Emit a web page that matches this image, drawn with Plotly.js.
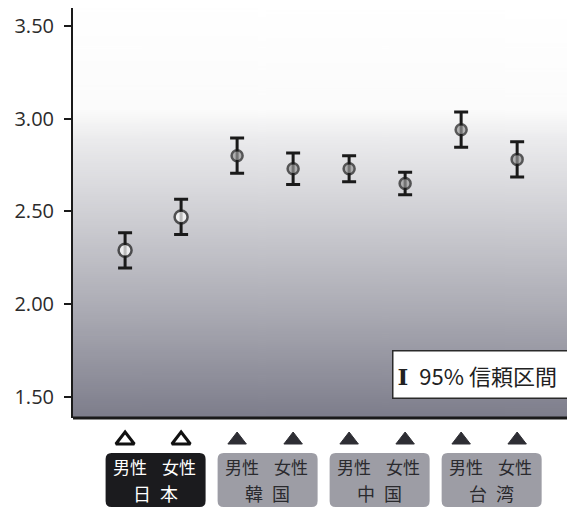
<!DOCTYPE html>
<html><head><meta charset="utf-8">
<script src="https://cdn.plot.ly/plotly-3.0.1.min.js"></script>
<style>html,body{margin:0;padding:0;background:#fff;}#chart{width:567px;height:510px;}</style>
</head><body><div id="chart"></div>
<script>
// Data
const countries = ["日本","韓国","中国","台湾"];
const sexLabels = ["男性","女性"];
const categories = ["日本 男性","日本 女性","韓国 男性","韓国 女性","中国 男性","中国 女性","台湾 男性","台湾 女性"];
const means = [2.29, 2.47, 2.80, 2.73, 2.73, 2.65, 2.94, 2.78];
const ci95 = [0.095, 0.095, 0.095, 0.085, 0.07, 0.06, 0.095, 0.095];
const tickVals = [1.5, 2.0, 2.5, 3.0, 3.5];
const tickText = ["1.50","2.00","2.50","3.00","3.50"];
const legendText = "95% 信頼区間";

// background gradient for plot area
const cv = document.createElement('canvas');
cv.width = 4; cv.height = 400;
const ctx = cv.getContext('2d');
const g = ctx.createLinearGradient(0,0,0,400);
g.addColorStop(0.00,'#ffffff');
g.addColorStop(0.25,'#fbfbfb');
g.addColorStop(0.32,'#ebebed');
g.addColorStop(0.52,'#cdcdd2');
g.addColorStop(0.75,'#a9a9b2');
g.addColorStop(1.00,'#7d7d8b');
ctx.fillStyle = g; ctx.fillRect(0,0,4,400);
const bgURL = cv.toDataURL('image/png');

const xs = categories.map((c,i)=>i);
const isJapan = categories.map(c=>c.startsWith("日本"));

// layout constants for the label strip (yaxis2 measured in pixels from bottom)
const STRIP_H = 0.18*502;
const TRI_Y = 70, SEX_Y = 44, CTRY_Y = 17, BOX_TOP = 57, BOX_BOT = 3;
const PXU = 494/8.82; // px per x unit

const trace = {
  type:'scatter', mode:'markers', x: xs, y: means, xaxis:'x', yaxis:'y',
  error_y:{type:'data', array: ci95, visible:true, color:'#1a1a1a', thickness:3, width:7},
  marker:{
    size: isJapan.map(j=>j?13:11),
    color: isJapan.map(j=>j?'#ffffff':'#9a9a9a'),
    line:{color:'#1a1a1a', width:2.5}
  },
  hoverinfo:'skip', showlegend:false, cliponaxis:false
};
const triTrace = {
  type:'scatter', mode:'markers', x: xs, y: xs.map(()=>TRI_Y), xaxis:'x', yaxis:'y2',
  marker:{symbol:'triangle-up', size:16,
    color: isJapan.map(j=>j?'#ffffff':'#2e2e34'),
    line:{color: isJapan.map(j=>j?'#111111':'#2e2e34'), width: isJapan.map(j=>j?3:1)}},
  hoverinfo:'skip', showlegend:false, cliponaxis:false
};

function roundRect(x0,x1,y0,y1,r){
  const rx = r/PXU, ry = r;
  return `M${x0+rx},${y0} L${x1-rx},${y0} Q${x1},${y0} ${x1},${y0+ry} L${x1},${y1-ry} Q${x1},${y1} ${x1-rx},${y1} `+
         `L${x0+rx},${y1} Q${x0},${y1} ${x0},${y1-ry} L${x0},${y0+ry} Q${x0},${y0} ${x0+rx},${y0} Z`;
}

const shapes = [];
const annotations = [];
countries.forEach((c,k)=>{
  const jp = k===0;
  const mid = 2*k+0.5 + 2.5/PXU;
  const hw = 50/PXU;
  shapes.push({type:'path', xref:'x', yref:'y2', path: roundRect(mid-hw, mid+hw, BOX_BOT, BOX_TOP, 6),
    fillcolor: jp ? '#1b1b1e' : '#9d9da5', line:{width:0}, layer:'below'});
  annotations.push({x: mid, xref:'x', y: CTRY_Y, yref:'y2', xanchor:'center', yanchor:'middle',
    text: c.split('').join('\u2002'), showarrow:false,
    font:{family:'Noto Sans CJK JP', size:18, color: jp ? '#ffffff' : '#2a2a2e'}});
  sexLabels.forEach((s,j)=>{
    annotations.push({x: 2*k+j + (j===0?5:-2)/PXU, xref:'x', y: SEX_Y, yref:'y2', xanchor:'center', yanchor:'middle',
      text: s, showarrow:false,
      font:{family:'Noto Sans CJK JP', size:17, color: jp ? '#ffffff' : '#2a2a2e'}});
  });
});
// legend box
annotations.push({x:(392-125)/PXU, xref:'x', y:1.619, yref:'y', xanchor:'left', yanchor:'middle',
  text:'<span style="font-family:DejaVu Serif;font-weight:bold;font-size:23px">I</span>\u2002' + legendText, showarrow:false,
  align:'left', width:230, height:38, borderpad:4, bgcolor:'#ffffff', bordercolor:'#2a2a2a', borderwidth:1.5,
  font:{family:'Noto Sans CJK JP', size:22, color:'#222'}});

const layout = {
  width:567, height:510,
  margin:{l:73, r:0, t:8, b:0},
  paper_bgcolor:'#ffffff', plot_bgcolor:'rgba(0,0,0,0)',
  showlegend:false,
  xaxis:{range:[-0.93, 7.89], showticklabels:false, ticks:'', showgrid:false, zeroline:false,
    showline:false, fixedrange:true, anchor:'y2'},
  yaxis:{domain:[92/502, 1], range:[1.386, 3.596], tickvals:tickVals, ticktext:tickText, ticks:'outside', ticklen:7, tickwidth:2,
    tickcolor:'#1a1a1a', showgrid:false, zeroline:false, showline:true, linecolor:'#1a1a1a', linewidth:2,
    tickfont:{family:'Open Sans', size:20, color:'#2b2b2b'}, ticklabelstandoff:6, fixedrange:true},
  yaxis2:{domain:[0, 0.18], range:[0, STRIP_H], visible:false, fixedrange:true},
  images:[{source:bgURL, xref:'paper', yref:'y domain', x:0, y:1, sizex:1, sizey:1, sizing:'stretch', layer:'below'}],
  shapes: shapes.concat([{type:'line', xref:'paper', yref:'y domain', x0:0, x1:1, y0:0, y1:0,
    line:{color:'#1a1a1a', width:3}}]),
  annotations: annotations
};
Plotly.newPlot('chart',[trace, triTrace],layout,{displayModeBar:false, staticPlot:true});
</script></body></html>
